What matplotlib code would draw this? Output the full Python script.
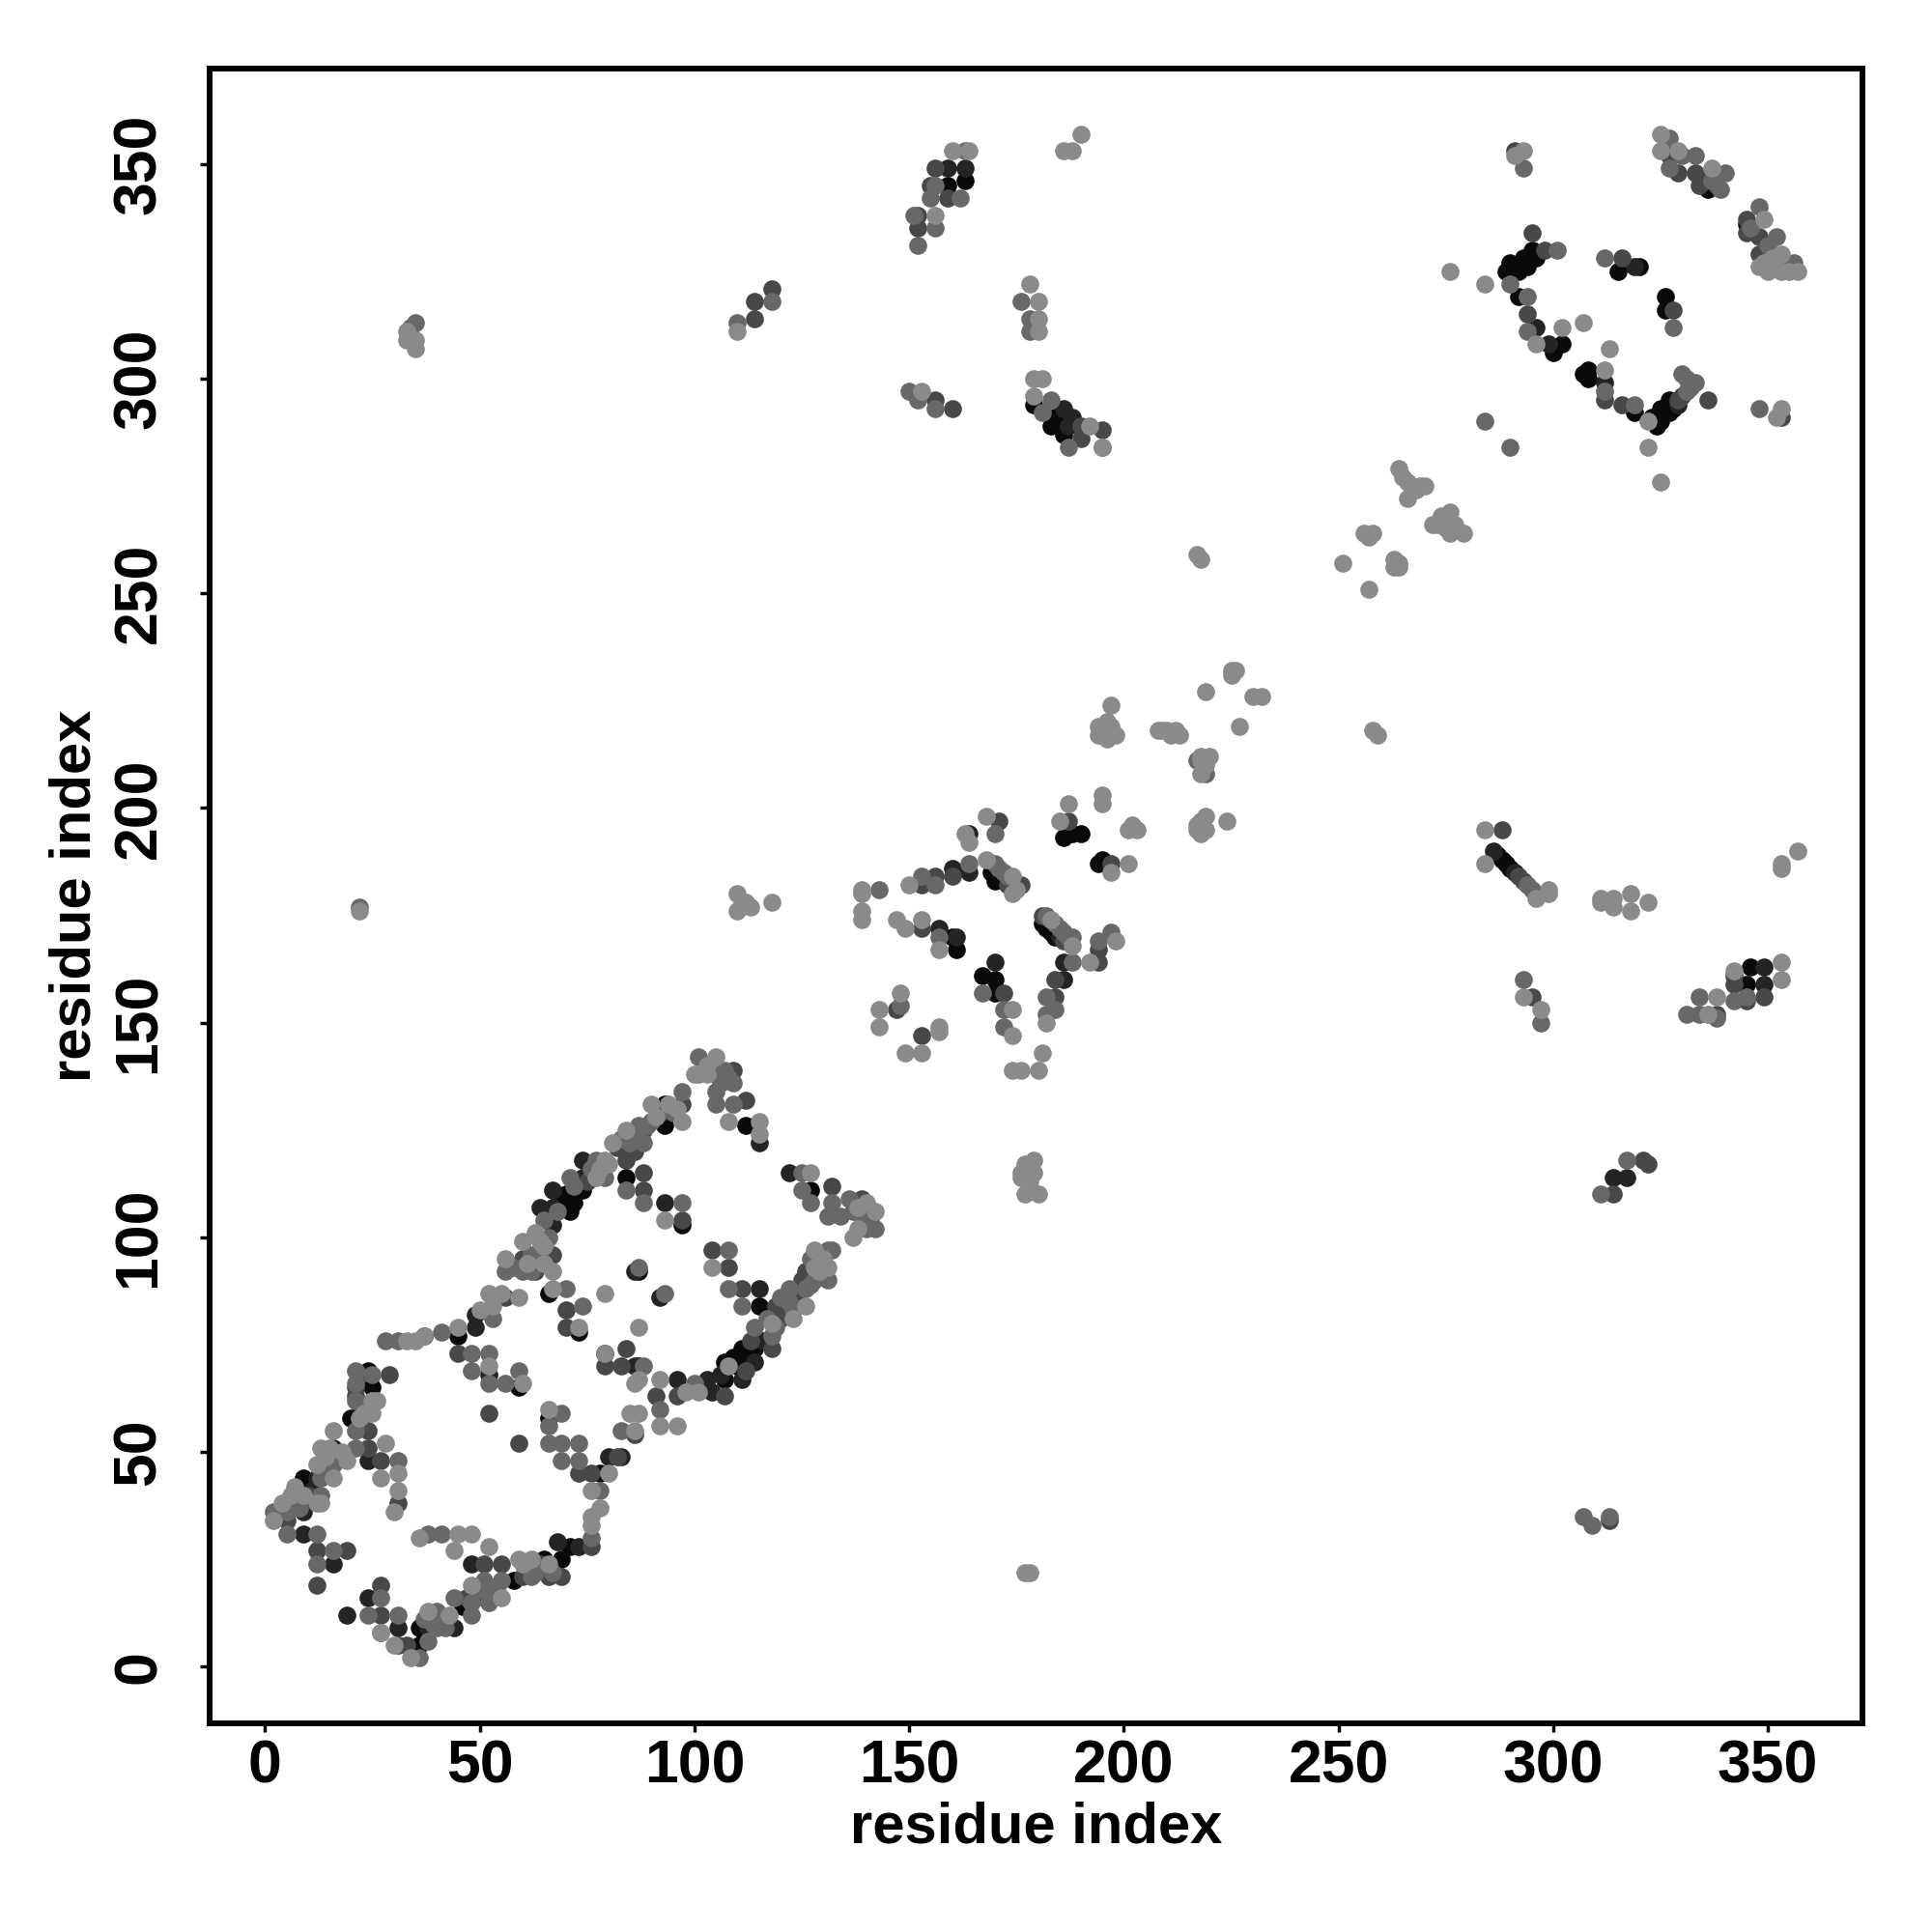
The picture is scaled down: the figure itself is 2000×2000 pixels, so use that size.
from matplotlib import pyplot as plt
import numpy as np

plt.rcParams['font.family'] = ['Liberation Sans', 'DejaVu Sans']
plt.rcParams['font.weight'] = 'bold'

# contacts, (residue i, residue j), grouped by grey level
black_pts = [(36,5),(36,9),(45,77),(25,65),(24,69),(20,58),(9,44),(59,65),(66,58),(73,78),(66,87),(79,73),
  (78,45),(69,25),(71,28),(65,25),(58,20),(37,8),(46,14),
  (70,110),(71,106),(74,111),(84,114),(93,131),(93,126),(112,126),(127,111),(114,74),(111,74),(110,70),
  (107,71),(107,67),(115,84),(87,92),(97,103),(87,70),(109,72),(112,72),(72,108),(69,109),
  (169,185),(170,183),(161,167),(160,170),(167,161),(170,160),(170,157),(181,173),(184,170),(182,172),(183,171),
  (188,194),(186,193),(190,194),(195,188),(194,187),(171,184),(172,183),
  (295,330),(296,328),(293,328),(294,326),(290,327),(292,325),(289,325),(292,319),(302,308),(300,306),(291,326),(293,326),
  (315,325),(320,326),(326,319),(326,316),(307,301),(308,302),(308,300),(319,292),(325,290),(327,292),(328,293),
  (324,289),(323,291),(325,293),(327,295),(326,292),(336,344),(345,336),
  (159,345),(163,346),(179,294),(183,289),(186,287),(184,291),(185,290),
  (287,189),(289,187),(288,188),(290,186),(345,159),(346,163)]
vdark_pts = [(31,9),(44,9),(24,16),(19,12),(16,24),(9,31),(9,36),(12,44),(16,51),(24,48),(37,77),(52,68),
  (49,82),(49,79),(48,24),(68,29),(73,28),(83,49),(80,49),(86,70),(38,9),(11,41),(22,61),
  (67,111),(67,107),(67,103),(74,114),(74,118),(93,108),(115,122),(122,115),(114,71),(111,67),(103,67),
  (104,64),(96,67),(115,88),(92,86),(86,92),(64,107),(116,76),(106,68),(66,106),
  (164,194),(164,185),(160,186),(157,172),(161,170),(174,181),(186,164),(186,160),(170,164),(185,170),
  (296,312),(299,308),(312,299),(319,326),(286,190),(291,185),(317,114),(314,114),(349,163),(349,159),
  (159,349),(163,349),(186,293),(188,291),(187,289),(329,294)]
dark_pts = [(5,34),(12,19),(27,19),(19,27),(27,12),(12,27),(21,65),(24,51),(24,55),(29,68),(27,48),(31,38),
  (52,59),(59,52),(70,83),(70,79),(63,92),(63,96),(67,96),(53,86),(56,86),(45,73),(76,45),(73,45),(76,28),
  (66,21),(69,21),(47,16),(51,16),(51,24),(55,24),(31,5),(33,5),(84,118),(88,115),(88,111),(109,139),
  (112,132),(97,131),(97,104),(60,95),(104,97),(108,93),(111,88),(84,74),(79,70),(83,70),(119,84),(120,81),
  (118,74),(107,63),(96,63),(91,63),(126,92),(139,109),(132,112),(86,54),(82,49),(22,68),(21,63),(7,38),(10,40),
  (41,11),(49,17),(64,24),(60,21),(75,113),(82,121),(86,120),(88,125),(92,129),(112,69),(113,76),(121,83),(125,90),(124,87),
  (171,197),(160,184),(153,182),(156,184),(153,172),(176,182),(181,175),(194,164),(194,167),(184,160),(184,156),
  (172,157),(147,153),(153,147),(187,197),(197,187),(173,182),(186,169),
  (294,315),(298,330),(295,334),(333,348),(334,345),(338,345),(345,337),(345,334),(348,333),(327,352),(329,348),
  (291,353),(312,295),(316,294),(329,295),(336,295),(353,291),(316,328),(328,316),(348,329),(330,296),(335,346),
  (114,314),(114,318),(118,321),(156,349),(155,345),(159,342),(152,338),(152,335),(156,295),(160,293),
  (190,289),(190,286),(195,288),(288,195),(292,184),(293,183),(295,156),(342,159),(338,152),
  (345,155),(349,156),(314,110),(321,118),(322,117),(313,34),(342,161)]
mid_pts = [(36,2),(38,6),(2,36),(5,36),(40,9),(5,31),(13,40),(16,47),(21,51),(21,55),(21,62),(25,68),(21,69),
  (31,48),(28,76),(31,76),(41,78),(48,73),(52,73),(48,69),(56,66),(59,69),(52,66),(66,56),(69,59),(66,52),(69,52),
  (73,52),(69,48),(73,48),(78,41),(76,30),(62,21),(55,20),(51,20),(44,16),(40,13),(27,16),(24,12),(31,12),(27,8),
  (12,31),(16,27),(12,24),(48,12),(53,81),(70,88),(74,84),(83,55),(60,92),(56,92),(41,31),(38,31),(63,22),(67,22),
  (8,37),(13,44),(15,46),(21,66),(39,10),(42,9),(37,11),(48,15),(50,18),(54,18),(52,15),
  (85,122),(88,122),(89,126),(97,134),(101,142),(105,138),(109,136),(105,134),(105,131),(109,131),(84,111),(88,108),
  (97,108),(108,97),(108,88),(111,84),(87,93),(93,87),(125,115),(125,111),(127,108),(132,108),(131,105),(134,105),
  (136,109),(139,105),(142,102),(132,97),(131,97),(131,90),(127,89),(122,88),(122,85),(114,79),(118,77),(71,114),
  (79,114),(77,118),(92,60),(88,70),(65,104),(68,106),(72,112),(76,116),(83,123),(86,124),(87,126),(90,127),(95,129),
  (58,93),(62,96),(64,95),(62,92),(66,100),(119,79),(117,81),(123,83),(126,88),(128,90),(127,95),(120,86),(100,66),
  (107,139),(106,136),(108,137),(137,106),(140,102),(141,104),
  (164,187),(156,182),(153,184),(170,194),(143,181),(170,187),(172,185),(157,170),(185,172),(187,170),(188,164),
  (194,169),(197,171),(182,156),(184,153),(182,152),(167,157),(172,153),(172,149),(148,154),(217,211),(219,208),
  (171,186),(173,184),(184,173),(186,171),(188,170),
  (293,349),(294,319),(294,311),(301,330),(290,322),(312,328),(312,297),(319,294),(328,312),(330,301),(332,298),
  (348,293),(327,356),(330,352),(333,352),(327,349),(340,348),(348,340),(352,333),(353,327),(356,327),(346,335),(350,331),
  (284,290),(290,284),(331,300),(333,299),(331,297),(339,344),(337,346),
  (34,312),(35,313),(110,313),(118,318),(156,345),(155,342),(162,342),(163,353),(156,335),(151,338),(152,331),
  (176,318),(178,314),(178,311),(150,297),(152,295),(156,293),(183,295),(181,292),(195,284),(187,284),(22,177),
  (294,182),(297,150),(293,160),(334,156),(334,152),(331,152),(338,151),(342,155),(345,156),(317,118),(311,110),
  (307,35),(309,33),(313,35),(295,181),(182,175)]
light_pts = [(34,2),(30,5),(38,13),(27,8),(2,34),(6,40),(9,40),(13,38),(12,47),(16,44),(19,48),(13,51),(16,55),(22,58),
  (25,59),(25,62),(28,52),(27,44),(31,45),(31,41),(30,36),(33,76),(35,76),(37,77),(45,79),(52,70),(60,66),(66,60),
  (67,88),(59,86),(52,87),(79,87),(73,79),(79,73),(56,95),(60,99),(64,99),(67,92),(86,66),(87,79),(85,59),(86,55),
  (80,45),(76,41),(78,37),(76,35),(76,33),(52,28),(44,27),(48,31),(45,31),(36,30),(59,25),(62,25),(48,19),(55,16),
  (63,101),(77,114),(79,118),(81,122),(84,125),(90,131),(94,131),(97,127),(100,138),(101,138),(105,142),
  (108,127),(115,127),(115,124),(127,115),(142,106),(138,102),(137,100),(128,97),(131,93),(128,93),(126,84),(123,81),
  (118,80),(108,70),(101,64),(98,64),(92,67),(87,67),(87,59),(92,56),(96,56),(93,104),(104,93),
  (14,49),(15,51),(18,50),(7,42),(12,38),(4,38),(26,62),(23,59),(43,12),(66,24),(60,24),(78,116),(80,117),(91,128),
  (96,130),(61,94),(65,94),(65,98),(129,92),(130,95),(103,140),(103,138),(138,107),(140,108),(50,83),(53,84),(55,87),
  (168,198),(163,194),(164,192),(150,182),(168,188),(174,184),(174,180),(139,181),(139,176),(139,174),(147,174),
  (149,172),(153,174),(157,167),(183,174),(188,168),(192,164),(198,169),(182,150),(174,153),(174,147),(148,157),
  (143,153),(143,149),(157,149),(157,148),(149,143),(153,143),(181,143),(180,139),(174,139),(176,139),(187,201),
  (185,197),(195,203),(195,201),(201,195),(203,195),(202,196),(201,187),(197,185),(217,196),(219,198),(224,197),
  (217,195),(219,195),(218,211),(218,208),(175,181),
  (293,353),(291,352),(325,357),(325,353),(329,353),(337,349),(349,337),(349,327),(353,329),(353,325),(357,325),(348,326),
  (302,312),(296,308),(307,313),(313,307),(312,302),(322,290),(322,284),(325,276),(284,322),(353,293),(352,291),(276,325),
  (351,328),(350,325),(355,325),
  (33,309),(35,309),(35,307),(33,311),(110,311),(156,338),(160,353),(164,353),(186,353),(188,353),(190,357),
  (178,322),(180,318),(180,314),(180,311),(153,297),(179,300),(181,300),(179,296),(192,289),(195,284),
  (264,279),(266,276),(269,275),(266,272),(270,275),(276,269),(274,268),(272,266),(275,265),(276,264),(279,264),
  (265,277),(267,275),(268,274),(275,267),(273,266),(277,266),
  (256,264),(258,264),(257,263),(251,257),(263,258),(264,256),(264,257),(263,256),(257,251),(217,259),(218,258),(258,218),(259,217),
  (225,232),(226,232),(225,231),(219,227),(230,226),(232,226),(227,219),(197,224),(194,219),(197,219),(194,217),(198,217),
  (196,218),(196,216),(196,220),(218,197),(218,194),(219,210),(209,218),(210,218),(213,217),
  (208,218),(212,218),(211,217),(218,212),(220,212),(22,176),(110,180),(110,176),(113,177),(118,178),(112,178),(111,178),
  (139,180),(177,117),(178,113),(176,114),(177,110),(180,110),(176,115),(179,115),(179,118),(178,111),(177,22),(178,22),
  (284,195),(284,187),(296,179),(299,181),(299,180),(311,179),(311,178),(314,179),(318,180),(318,176),(322,178),(314,177),
  (353,187),(353,186),(357,190),(293,156),(297,153),(336,152),(338,156),(342,162),(353,164),(353,160)]

groups = [(black_pts, '#0a0a0a'), (vdark_pts, '#242424'), (dark_pts, '#484848'),
          (mid_pts, '#686868'), (light_pts, '#8a8a8a')]
ticks = [0, 50, 100, 150, 200, 250, 300, 350]

fig = plt.figure(figsize=(20, 20), dpi=100)
ax = fig.add_axes([217/2000, 1-1784/2000, (1928-217)/2000, (1784-71)/2000])

for pts, col in groups:
    arr = np.array(pts)
    ax.scatter(arr[:, 0], arr[:, 1], s=180, c=col, linewidths=0)

ax.set_xlim(-12.9, 372)
ax.set_ylim(-13.2, 372.2)
ax.set_xticks(ticks)
ax.set_yticks(ticks)
ax.tick_params(axis='x', length=6.5, width=2.5, labelsize=45, pad=5)
ax.tick_params(axis='y', length=7, width=2.5, labelsize=45, pad=24)
plt.setp(ax.get_yticklabels(), rotation=90, va='center')
for s in ax.spines.values():
    s.set_linewidth(4.3)
ax.set_xlabel('residue index', fontsize=43, fontweight='bold', va='center')
ax.set_ylabel('residue index', fontsize=43, fontweight='bold', va='center')
ax.xaxis.set_label_coords(0.5, -0.063)
ax.yaxis.set_label_coords(-0.081, 0.5)

fig.savefig('out.png', dpi=100, facecolor='white')
